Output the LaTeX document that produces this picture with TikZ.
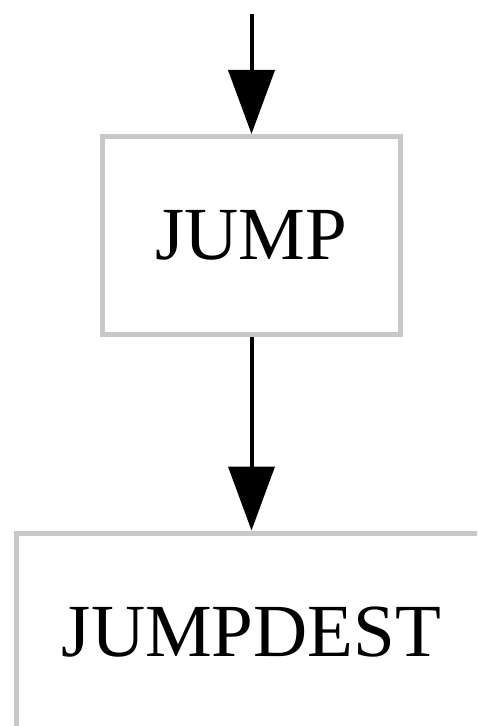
\documentclass[tikz,border=0pt]{standalone}
\usepackage{fontspec}
\setmainfont{Liberation Serif}
\usetikzlibrary{positioning, arrows.meta}
\definecolor{boxgray}{RGB}{200,200,200}

\begin{document}
\begin{tikzpicture}[
        x=0.5pt, y=-0.5pt,
        every node/.style={draw=boxgray, line width=2.5pt, inner sep=0pt, font=\fontsize{37.5}{45}\selectfont},
        op/.style={minimum width=149pt, minimum height=99pt},
        dest/.style={minimum width=235pt, minimum height=99pt},
        link/.style={-{Triangle[length=32pt, width=23pt]}, line width=2pt}
    ]

    \clip (0,0) rectangle (477,726);

    % Opcodes
    \node[op] (jump) at (251.5,235.5) {JUMP};
    \node[dest, below=96.75pt of jump] (jumpdest) {JUMPDEST};

    % Edges
    \coordinate (entry) at (251.5,14);
    \draw[link] (entry) -- (jump);
    \draw[link] (jump) -- (jumpdest);

\end{tikzpicture}
\end{document}
